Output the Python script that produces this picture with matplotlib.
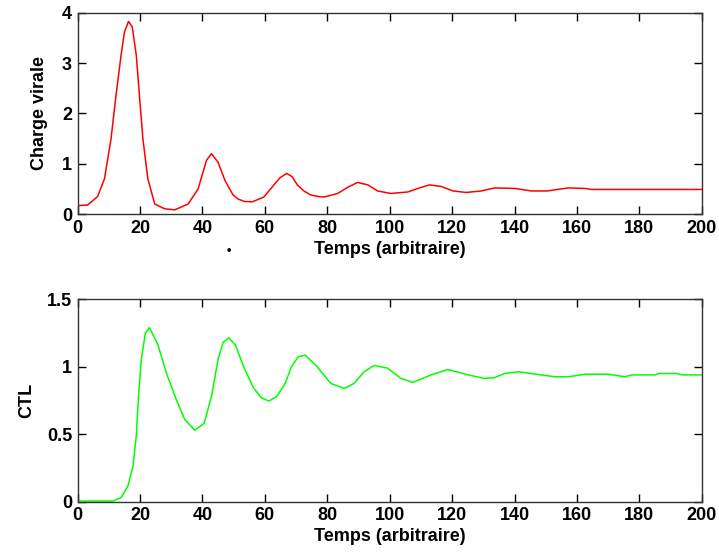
import matplotlib
matplotlib.use("Agg")
import matplotlib.pyplot as plt

plt.rcParams['font.family'] = ['Liberation Sans', 'DejaVu Sans']
plt.rcParams['font.weight'] = 'bold'

# charge virale (courbe du haut)
t_virus = [0, 3.2, 6.4, 8.6, 10.7, 12.3, 13.9, 15.0, 16.3, 17.5, 18.8, 19.8, 20.9,
           22.5, 24.7, 27.9, 31.1, 35.4, 38.6, 41.3, 42.9, 45.0, 47.2, 49.8, 51.4,
           53.5, 56.0, 59.7, 62.9, 64.8, 67.0, 68.8, 70.4, 72.5, 74.7, 77.0, 79.0,
           83.3, 86.5, 89.7, 93.0, 96.1, 100.4, 105.8, 109.5, 112.7, 116.5, 120.3,
           124.5, 129.4, 133.6, 140.1, 145.4, 150.4, 157.2, 162.6, 164.7, 200]
virus = [0.17, 0.18, 0.35, 0.70, 1.50, 2.36, 3.15, 3.62, 3.83, 3.72, 3.15, 2.36, 1.50,
         0.70, 0.20, 0.105, 0.085, 0.20, 0.50, 1.07, 1.20, 1.03, 0.67, 0.38, 0.30,
         0.25, 0.245, 0.34, 0.58, 0.72, 0.81, 0.74, 0.58, 0.46, 0.38, 0.35, 0.34,
         0.41, 0.53, 0.63, 0.58, 0.46, 0.41, 0.44, 0.52, 0.58, 0.55, 0.46,
         0.43, 0.46, 0.52, 0.51, 0.46, 0.46, 0.52, 0.51, 0.49, 0.49]

# CTL (courbe du bas)
t_ctl = [0, 11.3, 13.9, 16.1, 17.7, 18.8, 19.5, 20.4, 21.7, 23.0, 25.7, 28.4, 31.6,
         34.3, 37.5, 40.5, 42.9, 45.0, 46.6, 48.4, 50.6, 53.1, 56.3, 58.9, 61.3,
         63.8, 66.5, 68.6, 70.7, 72.9, 76.6, 81.1, 85.4, 88.6, 91.8, 95.0, 99.3,
         103.6, 107.4, 113.3, 118.6, 125.1, 130.4, 133.6, 136.8, 141.2, 147.6,
         152.9, 157.2, 162.6, 170.1, 175.4, 177.6, 185.1, 186.2, 192.1, 193.7, 200]
ctl = [0.005, 0.005, 0.03, 0.116, 0.26, 0.49, 0.78, 1.055, 1.25, 1.29, 1.166, 0.955, 0.758,
       0.61, 0.53, 0.58, 0.78, 1.055, 1.18, 1.215, 1.16, 1.005, 0.845, 0.77, 0.746,
       0.78, 0.877, 1.005, 1.074, 1.087, 1.005, 0.877, 0.84, 0.877, 0.963, 1.01, 0.99,
       0.914, 0.884, 0.94, 0.98, 0.94, 0.914, 0.92, 0.95, 0.963, 0.943,
       0.926, 0.926, 0.945, 0.945, 0.926, 0.94, 0.94, 0.95, 0.95, 0.94, 0.94]

fig = plt.figure(figsize=(7.19, 5.59), dpi=100)
ax1 = fig.add_axes([0.108, 0.617, 0.868, 0.360])
ax2 = fig.add_axes([0.108, 0.1025, 0.868, 0.362])

ax1.plot(t_virus, virus, color='#ff0000', lw=1.1)
ax2.plot(t_ctl, ctl, color='#00ff00', lw=1.1)

ax1.set_ylim(0, 4)
ax1.set_yticks([0, 1, 2, 3, 4])
ax2.set_ylim(0, 1.5)
ax2.set_yticks([0, 0.5, 1, 1.5])
ax2.set_yticklabels(['0', '0.5', '1', '1.5'])

for ax in (ax1, ax2):
    ax.set_xlim(0, 200)
    ax.set_xticks(range(0, 201, 20))
    ax.tick_params(direction='in', top=True, right=True, length=6, width=1,
                   labelsize=13, pad=4)
    for s in ax.spines.values():
        s.set_linewidth(1.0)
        s.set_color('#333333')
    ax.set_xlabel('Temps (arbitraire)', fontsize=13, fontweight='bold', labelpad=3)

ax1.set_ylabel('Charge virale', fontsize=13, fontweight='bold', labelpad=10)
ax2.set_ylabel('CTL', fontsize=13, fontweight='bold', labelpad=8)

fig.text(229 / 719, 1 - 251 / 559, '•', fontsize=9, ha='center', va='center')

fig.savefig('out.png', dpi=100)
